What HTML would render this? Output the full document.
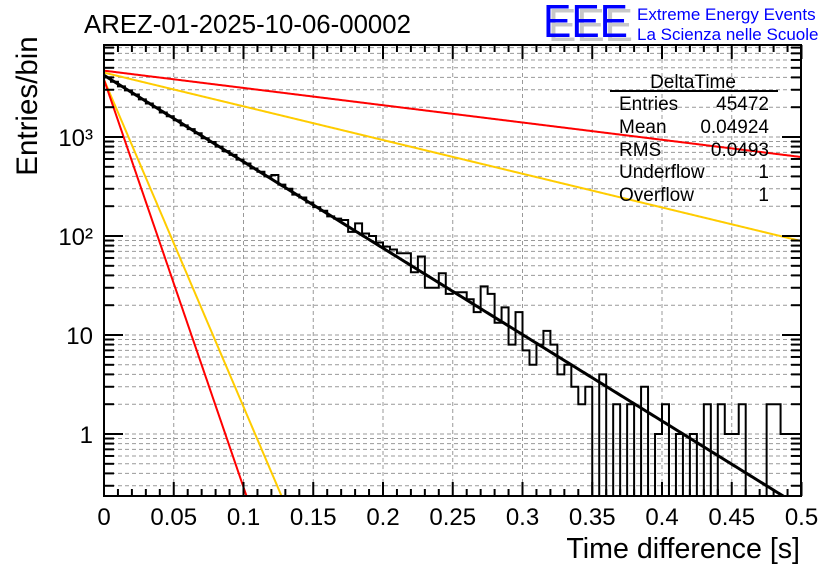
<!DOCTYPE html>
<html><head><meta charset="utf-8"><style>
html,body{margin:0;padding:0;background:#fff;}
svg{display:block;font-family:"Liberation Sans",sans-serif;}
</style></head><body>
<svg id="chart" width="836" height="572" viewBox="0 0 836 572">
<defs><clipPath id="plotclip"><rect x="104" y="45" width="697" height="451"/></clipPath></defs>
<g id="grid"></g>
<g id="series" clip-path="url(#plotclip)"></g>
<rect x="104" y="45" width="697" height="451" fill="none" stroke="#000" stroke-width="2"/>
<g id="ticks"></g>
<g id="labels" font-size="24" fill="#000"></g>
<text x="84" y="33" font-size="25.8">AREZ-01-2025-10-06-00002</text>
<text transform="translate(37,106) rotate(-90)" text-anchor="middle" font-size="29.5">Entries/bin</text>
<text x="800" y="558" text-anchor="end" font-size="28.6">Time difference [s]</text>
<g>
<text x="548" y="41" font-size="46" fill="#c8c8c8" textLength="85" lengthAdjust="spacingAndGlyphs">EEE</text>
<text x="543" y="37" font-size="46" fill="#0000ff" textLength="85" lengthAdjust="spacingAndGlyphs">EEE</text>
<text x="637" y="20" font-size="17" fill="#0000ff">Extreme Energy Events</text>
<text x="637" y="40" font-size="17" fill="#0000ff">La Scienza nelle Scuole</text>
</g>
<g id="stats" font-size="19">
<text x="693" y="88" text-anchor="middle">DeltaTime</text>
<line x1="610" y1="91" x2="778" y2="91" stroke="#000" stroke-width="2"/>
<text x="619" y="110">Entries</text><text x="769" y="110" text-anchor="end">45472</text>
<text x="619" y="133">Mean</text><text x="769" y="133" text-anchor="end">0.04924</text>
<text x="619" y="156">RMS</text><text x="769" y="156" text-anchor="end">0.0493</text>
<text x="619" y="178">Underflow</text><text x="769" y="178" text-anchor="end">1</text>
<text x="619" y="201">Overflow</text><text x="769" y="201" text-anchor="end">1</text>
</g>
</svg>
<script>
const binWidth = 0.005;
const counts = [4000,3620,3250,2960,2690,2400,2180,1990,1770,1620,
1470,1310,1200,1090,970,890,800,720,660,590,
540,480,445,400,413,330,300,262,245,218,
196,180,158,150,145,110,134,106,100,86,
78,73,67,67,43,62,30,30,42,26,
27,27,23,17,31,26,13.3,19,8,17,
7,5,8,11,8,4,5,3,2,3,
0,4,0,2,0,2,0,3,0,1,
2,0,1,0,1,0,2,0,2,1,
1,2,0,0,0,2,2,1,1,1];
const fitNames = ['fit-black','fit-red-steep','fit-orange-steep','fit-red-shallow','fit-orange-shallow'];
const fitAmps = [4200,3800,3800,4680,4470];
const fitRates = [20.1,94.8,76.1,4.02,7.84];
const fitColors = ['#000','#ff0000','#ffcc00','#ff0000','#ffcc00'];
const xTickVals = [0,0.05,0.1,0.15,0.2,0.25,0.3,0.35,0.4,0.45,0.5];
const xTickLabels = ['0','0.05','0.1','0.15','0.2','0.25','0.3','0.35','0.4','0.45','0.5'];
const yDecades = [1,10,100,1000];
const yDecadeLabels = ['1','10','10²','10³'];

const X0=104, X1=801, YB=496, YT=45;
function xs(t){return X0 + t*1395;}
function ys(v){return 434 - Math.log10(v)*99;}
const NS='http://www.w3.org/2000/svg';
function mk(tag,attrs,parent){const e=document.createElementNS(NS,tag);for(const k in attrs)e.setAttribute(k,attrs[k]);parent.appendChild(e);return e;}
const grid=document.getElementById('grid'), series=document.getElementById('series'), ticks=document.getElementById('ticks'), labels=document.getElementById('labels');

for(let i=0;i<xTickVals.length;i++){const x=xs(xTickVals[i]); if(x<=X0+1||x>=X1-1)continue;
 const g=mk('line',{x1:x,x2:x,y1:YT,y2:YB,stroke:'#999','stroke-dasharray':'4,3','stroke-width':1},grid);
  }
for(let d=-1; d<4; d++){for(let m=1;m<=9;m++){const v=m*Math.pow(10,d);const y=ys(v); if(y>=YB-1||y<=YT+1)continue;
 const g=mk('line',{x1:X0,x2:X1,y1:y,y2:y,stroke:'#999','stroke-dasharray':'4,3','stroke-width':1},grid);
  
 const len=m===1?19:10;
 const t1=mk('line',{x1:X0,x2:X0+len,y1:y,y2:y,stroke:'#000','stroke-width':2},ticks);
  
 const t2=mk('line',{x1:X1-len,x2:X1,y1:y,y2:y,stroke:'#000','stroke-width':2},ticks);
  }}
for(let k=0;k<=50;k++){const x=xs(k*0.01); const len=(k%5===0)?14:7;
 const a=mk('line',{x1:x,x2:x,y1:YB,y2:YB-len,stroke:'#000','stroke-width':2},ticks);
  
 const b=mk('line',{x1:x,x2:x,y1:YT,y2:YT+len,stroke:'#000','stroke-width':2},ticks);
  }
for(let i=0;i<xTickVals.length;i++){const t=mk('text',{x:xs(xTickVals[i]),y:525,'text-anchor':'middle'},labels);t.textContent=xTickLabels[i];
  }
for(let i=0;i<yDecades.length;i++){const t=mk('text',{x:93,y:ys(yDecades[i])+9,'text-anchor':'end'},labels);t.textContent=yDecadeLabels[i];
  }

let d='M'+xs(0)+','+YB;
for(let i=0;i<counts.length;i++){const xl=xs(i*binWidth), xr=xs((i+1)*binWidth);
 const y=counts[i]>0?ys(counts[i]):YB+2; d+=' L'+xl+','+y+' L'+xr+','+y;}
d+=' L'+xs(counts.length*binWidth)+','+YB;
const h=mk('path',{d:d,fill:'none',stroke:'#000','stroke-width':2},series);
 

for(let f=fitAmps.length-1;f>=0;f--){let p='';
 for(let k=0;k<=500;k++){const t=k*0.001; const v=fitAmps[f]*Math.exp(-fitRates[f]*t); const y=ys(v);
  p+=(k?' L':'M')+xs(t).toFixed(2)+','+y.toFixed(2); if(y>YB+5)break;}
 const l=mk('path',{d:p,fill:'none',stroke:fitColors[f],'stroke-width':f===0?3:2},series);
  }
</script>
</body></html>
